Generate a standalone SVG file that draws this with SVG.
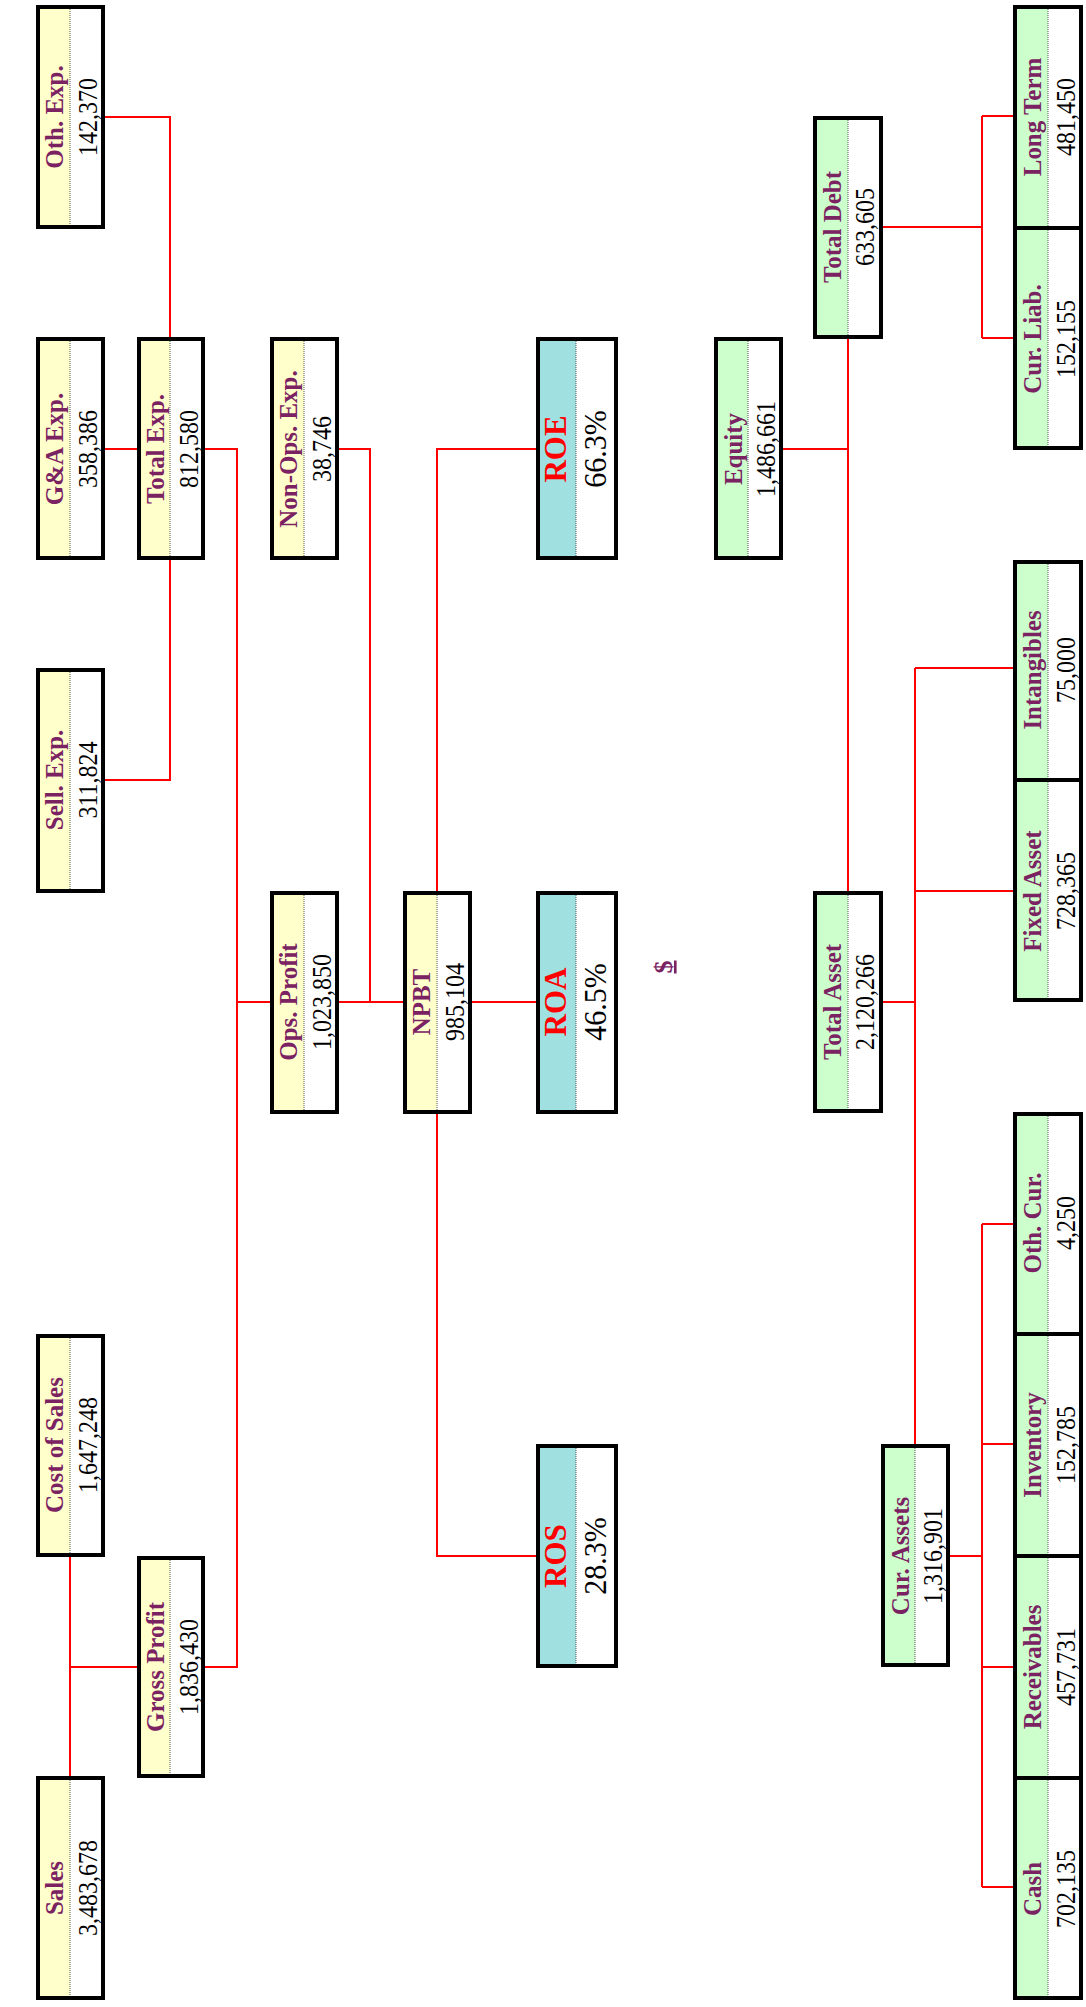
<svg xmlns="http://www.w3.org/2000/svg" width="1086" height="2007" viewBox="0 0 1086 2007">
<style>
.bx{fill:none;stroke:#000;stroke-width:4}
.hy{fill:#FFFFCC}.hg{fill:#CCFFCC}.hc{fill:#A0E0E0}.vb{fill:#FFFFFF}
.dv{stroke:#555;stroke-width:1;stroke-dasharray:1 1}
.lb{font-family:"Liberation Serif",serif;font-weight:bold;font-size:26px;fill:#7B2262;text-anchor:middle}
.lr{font-family:"Liberation Serif",serif;font-weight:bold;font-size:31px;fill:#FF0000;text-anchor:middle}
.vl{font-family:"Liberation Serif",serif;font-size:27px;fill:#000;text-anchor:middle}
.pc{font-family:"Liberation Serif",serif;font-size:32px;fill:#000;text-anchor:middle}
.cn{fill:none;stroke:#FF0000;stroke-width:2}
.dl{font-family:"Liberation Serif",serif;font-weight:bold;font-size:26px;fill:#7B2262;text-anchor:middle;text-decoration:underline}
</style>
<g id="connectors">
<path class="cn" d="M70,1557V1776M70,1667H137"/>
<path class="cn" d="M205,1667H237V449H205M237,1002H270"/>
<path class="cn" d="M105,449H137M105,117H170V337M170,560V780H105"/>
<path class="cn" d="M339,449H370V1002M339,1002H403"/>
<path class="cn" d="M472,1002H536M437,891V449H536M437,1114V1556H536"/>
<path class="cn" d="M848,891V339M783,449H848M883,1002H915M915,668V1444M915,668H1013M915,891H1013"/>
<path class="cn" d="M883,227H982M982,116V338M982,116H1013M982,338H1013"/>
<path class="cn" d="M950,1556H982M982,1224V1887M982,1224H1013M982,1444H1013M982,1667H1013M982,1887H1013"/>
</g>
<g id="sales"><rect class="hy" x="38" y="1778" width="32" height="220"/><rect class="vb" x="70" y="1778" width="33" height="220"/><line class="dv" x1="70" y1="1778" x2="70" y2="1998"/><rect class="bx" x="38" y="1778" width="65" height="220"/><text class="lb" transform="translate(63,1888) rotate(-90) scale(0.96,1)">Sales</text><text class="vl" transform="translate(97,1888) rotate(-90) scale(0.89,1)">3,483,678</text></g>
<g id="cost-of-sales"><rect class="hy" x="38" y="1336" width="32" height="219"/><rect class="vb" x="70" y="1336" width="33" height="219"/><line class="dv" x1="70" y1="1336" x2="70" y2="1555"/><rect class="bx" x="38" y="1336" width="65" height="219"/><text class="lb" transform="translate(63,1445) rotate(-90) scale(0.96,1)">Cost of Sales</text><text class="vl" transform="translate(97,1445) rotate(-90) scale(0.89,1)">1,647,248</text></g>
<g id="sell-exp"><rect class="hy" x="38" y="670" width="32" height="221"/><rect class="vb" x="70" y="670" width="33" height="221"/><line class="dv" x1="70" y1="670" x2="70" y2="891"/><rect class="bx" x="38" y="670" width="65" height="221"/><text class="lb" transform="translate(63,780) rotate(-90) scale(0.96,1)">Sell. Exp.</text><text class="vl" transform="translate(97,780) rotate(-90) scale(0.89,1)">311,824</text></g>
<g id="ga-exp"><rect class="hy" x="38" y="339" width="32" height="219"/><rect class="vb" x="70" y="339" width="33" height="219"/><line class="dv" x1="70" y1="339" x2="70" y2="558"/><rect class="bx" x="38" y="339" width="65" height="219"/><text class="lb" transform="translate(63,449) rotate(-90) scale(0.96,1)">G&amp;A Exp.</text><text class="vl" transform="translate(97,449) rotate(-90) scale(0.89,1)">358,386</text></g>
<g id="oth-exp"><rect class="hy" x="38" y="7" width="32" height="220"/><rect class="vb" x="70" y="7" width="33" height="220"/><line class="dv" x1="70" y1="7" x2="70" y2="227"/><rect class="bx" x="38" y="7" width="65" height="220"/><text class="lb" transform="translate(63,117) rotate(-90) scale(0.96,1)">Oth. Exp.</text><text class="vl" transform="translate(97,117) rotate(-90) scale(0.89,1)">142,370</text></g>
<g id="gross-profit"><rect class="hy" x="139" y="1558" width="31" height="218"/><rect class="vb" x="170" y="1558" width="33" height="218"/><line class="dv" x1="170" y1="1558" x2="170" y2="1776"/><rect class="bx" x="139" y="1558" width="64" height="218"/><text class="lb" transform="translate(164,1667) rotate(-90) scale(0.96,1)">Gross Profit</text><text class="vl" transform="translate(198,1667) rotate(-90) scale(0.89,1)">1,836,430</text></g>
<g id="total-exp"><rect class="hy" x="139" y="339" width="31" height="219"/><rect class="vb" x="170" y="339" width="33" height="219"/><line class="dv" x1="170" y1="339" x2="170" y2="558"/><rect class="bx" x="139" y="339" width="64" height="219"/><text class="lb" transform="translate(164,449) rotate(-90) scale(0.96,1)">Total Exp.</text><text class="vl" transform="translate(198,449) rotate(-90) scale(0.89,1)">812,580</text></g>
<g id="ops-profit"><rect class="hy" x="272" y="893" width="32" height="219"/><rect class="vb" x="304" y="893" width="33" height="219"/><line class="dv" x1="304" y1="893" x2="304" y2="1112"/><rect class="bx" x="272" y="893" width="65" height="219"/><text class="lb" transform="translate(297,1002) rotate(-90) scale(0.96,1)">Ops. Profit</text><text class="vl" transform="translate(331,1002) rotate(-90) scale(0.89,1)">1,023,850</text></g>
<g id="non-ops-exp"><rect class="hy" x="272" y="339" width="32" height="219"/><rect class="vb" x="304" y="339" width="33" height="219"/><line class="dv" x1="304" y1="339" x2="304" y2="558"/><rect class="bx" x="272" y="339" width="65" height="219"/><text class="lb" transform="translate(297,449) rotate(-90) scale(0.96,1)">Non-Ops. Exp.</text><text class="vl" transform="translate(331,449) rotate(-90) scale(0.89,1)">38,746</text></g>
<g id="npbt"><rect class="hy" x="405" y="893" width="32" height="219"/><rect class="vb" x="437" y="893" width="33" height="219"/><line class="dv" x1="437" y1="893" x2="437" y2="1112"/><rect class="bx" x="405" y="893" width="65" height="219"/><text class="lb" transform="translate(430,1002) rotate(-90) scale(0.96,1)">NPBT</text><text class="vl" transform="translate(464,1002) rotate(-90) scale(0.89,1)">985,104</text></g>
<g id="ros"><rect class="hc" x="538" y="1446" width="38" height="220"/><rect class="vb" x="576" y="1446" width="40" height="220"/><line class="dv" x1="576" y1="1446" x2="576" y2="1666"/><rect class="bx" x="538" y="1446" width="78" height="220"/><text class="lr" transform="translate(566,1556) rotate(-90)">ROS</text><text class="pc" transform="translate(606,1556) rotate(-90) scale(0.94,1)">28.3%</text></g>
<g id="roa"><rect class="hc" x="538" y="893" width="38" height="219"/><rect class="vb" x="576" y="893" width="40" height="219"/><line class="dv" x1="576" y1="893" x2="576" y2="1112"/><rect class="bx" x="538" y="893" width="78" height="219"/><text class="lr" transform="translate(566,1002) rotate(-90)">ROA</text><text class="pc" transform="translate(606,1002) rotate(-90) scale(0.94,1)">46.5%</text></g>
<g id="roe"><rect class="hc" x="538" y="339" width="38" height="219"/><rect class="vb" x="576" y="339" width="40" height="219"/><line class="dv" x1="576" y1="339" x2="576" y2="558"/><rect class="bx" x="538" y="339" width="78" height="219"/><text class="lr" transform="translate(566,449) rotate(-90)">ROE</text><text class="pc" transform="translate(606,449) rotate(-90) scale(0.94,1)">66.3%</text></g>
<g id="equity"><rect class="hg" x="716" y="339" width="32" height="219"/><rect class="vb" x="748" y="339" width="33" height="219"/><line class="dv" x1="748" y1="339" x2="748" y2="558"/><rect class="bx" x="716" y="339" width="65" height="219"/><text class="lb" transform="translate(742,449) rotate(-90) scale(0.96,1)">Equity</text><text class="vl" transform="translate(775,449) rotate(-90) scale(0.89,1)">1,486,661</text></g>
<g id="total-debt"><rect class="hg" x="815" y="118" width="33" height="219"/><rect class="vb" x="848" y="118" width="33" height="219"/><line class="dv" x1="848" y1="118" x2="848" y2="337"/><rect class="bx" x="815" y="118" width="66" height="219"/><text class="lb" transform="translate(841,227) rotate(-90) scale(0.96,1)">Total Debt</text><text class="vl" transform="translate(874,227) rotate(-90) scale(0.89,1)">633,605</text></g>
<g id="total-asset"><rect class="hg" x="815" y="893" width="33" height="218"/><rect class="vb" x="848" y="893" width="33" height="218"/><line class="dv" x1="848" y1="893" x2="848" y2="1111"/><rect class="bx" x="815" y="893" width="66" height="218"/><text class="lb" transform="translate(841,1002) rotate(-90) scale(0.96,1)">Total Asset</text><text class="vl" transform="translate(874,1002) rotate(-90) scale(0.89,1)">2,120,266</text></g>
<g id="cur-assets"><rect class="hg" x="883" y="1446" width="32" height="219"/><rect class="vb" x="915" y="1446" width="33" height="219"/><line class="dv" x1="915" y1="1446" x2="915" y2="1665"/><rect class="bx" x="883" y="1446" width="65" height="219"/><text class="lb" transform="translate(909,1556) rotate(-90) scale(0.96,1)">Cur. Assets</text><text class="vl" transform="translate(942,1556) rotate(-90) scale(0.89,1)">1,316,901</text></g>
<g id="long-term"><rect class="hg" x="1015" y="7" width="33" height="221"/><rect class="vb" x="1048" y="7" width="33" height="221"/><line class="dv" x1="1048" y1="7" x2="1048" y2="228"/><rect class="bx" x="1015" y="7" width="66" height="221"/><text class="lb" transform="translate(1041,117) rotate(-90) scale(0.96,1)">Long Term</text><text class="vl" transform="translate(1075,117) rotate(-90) scale(0.89,1)">481,450</text></g>
<g id="cur-liab"><rect class="hg" x="1015" y="228" width="33" height="220"/><rect class="vb" x="1048" y="228" width="33" height="220"/><line class="dv" x1="1048" y1="228" x2="1048" y2="448"/><rect class="bx" x="1015" y="228" width="66" height="220"/><text class="lb" transform="translate(1041,339) rotate(-90) scale(0.96,1)">Cur. Liab.</text><text class="vl" transform="translate(1075,339) rotate(-90) scale(0.89,1)">152,155</text></g>
<g id="intangibles"><rect class="hg" x="1015" y="562" width="33" height="218"/><rect class="vb" x="1048" y="562" width="33" height="218"/><line class="dv" x1="1048" y1="562" x2="1048" y2="780"/><rect class="bx" x="1015" y="562" width="66" height="218"/><text class="lb" transform="translate(1041,670) rotate(-90) scale(0.96,1)">Intangibles</text><text class="vl" transform="translate(1075,670) rotate(-90) scale(0.89,1)">75,000</text></g>
<g id="fixed-asset"><rect class="hg" x="1015" y="780" width="33" height="220"/><rect class="vb" x="1048" y="780" width="33" height="220"/><line class="dv" x1="1048" y1="780" x2="1048" y2="1000"/><rect class="bx" x="1015" y="780" width="66" height="220"/><text class="lb" transform="translate(1041,891) rotate(-90) scale(0.96,1)">Fixed Asset</text><text class="vl" transform="translate(1075,891) rotate(-90) scale(0.89,1)">728,365</text></g>
<g id="oth-cur"><rect class="hg" x="1015" y="1114" width="33" height="220"/><rect class="vb" x="1048" y="1114" width="33" height="220"/><line class="dv" x1="1048" y1="1114" x2="1048" y2="1334"/><rect class="bx" x="1015" y="1114" width="66" height="220"/><text class="lb" transform="translate(1041,1223) rotate(-90) scale(0.96,1)">Oth. Cur.</text><text class="vl" transform="translate(1075,1223) rotate(-90) scale(0.89,1)">4,250</text></g>
<g id="inventory"><rect class="hg" x="1015" y="1334" width="33" height="222"/><rect class="vb" x="1048" y="1334" width="33" height="222"/><line class="dv" x1="1048" y1="1334" x2="1048" y2="1556"/><rect class="bx" x="1015" y="1334" width="66" height="222"/><text class="lb" transform="translate(1041,1445) rotate(-90) scale(0.96,1)">Inventory</text><text class="vl" transform="translate(1075,1445) rotate(-90) scale(0.89,1)">152,785</text></g>
<g id="receivables"><rect class="hg" x="1015" y="1556" width="33" height="222"/><rect class="vb" x="1048" y="1556" width="33" height="222"/><line class="dv" x1="1048" y1="1556" x2="1048" y2="1778"/><rect class="bx" x="1015" y="1556" width="66" height="222"/><text class="lb" transform="translate(1041,1667) rotate(-90) scale(0.96,1)">Receivables</text><text class="vl" transform="translate(1075,1667) rotate(-90) scale(0.89,1)">457,731</text></g>
<g id="cash"><rect class="hg" x="1015" y="1778" width="33" height="220"/><rect class="vb" x="1048" y="1778" width="33" height="220"/><line class="dv" x1="1048" y1="1778" x2="1048" y2="1998"/><rect class="bx" x="1015" y="1778" width="66" height="220"/><text class="lb" transform="translate(1041,1889) rotate(-90) scale(0.96,1)">Cash</text><text class="vl" transform="translate(1075,1889) rotate(-90) scale(0.89,1)">702,135</text></g>
<text class="dl" transform="translate(672,967) rotate(-90)">$</text>
</svg>
